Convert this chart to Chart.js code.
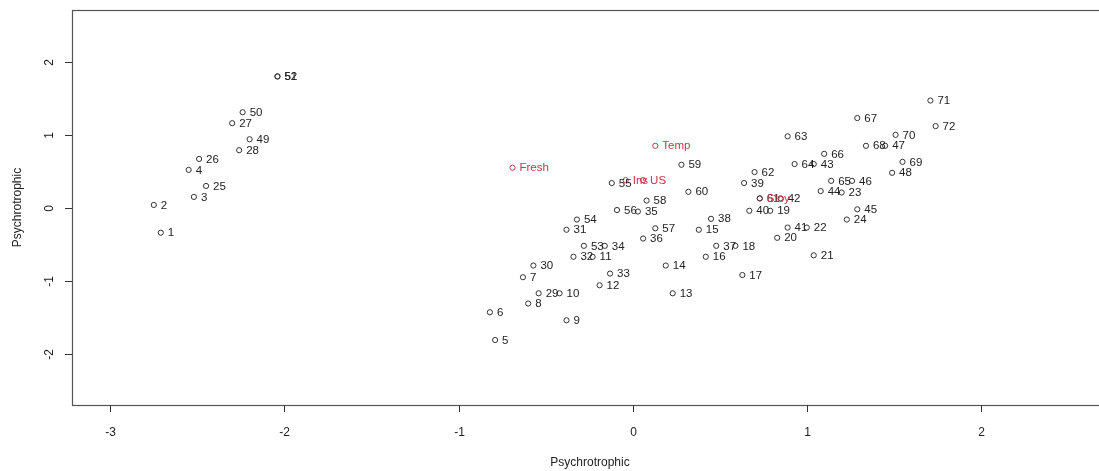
<!DOCTYPE html>
<html>
<head>
<meta charset="utf-8">
<script src="https://cdn.jsdelivr.net/npm/chart.js@4"></script>
<style>
  html, body { margin: 0; padding: 0; background: #fff; overflow: hidden; }
  #wrap { position: relative; width: 1120px; height: 471px; }
</style>
</head>
<body>
<div id="wrap"><canvas id="biplot"></canvas></div>
<script>
// observations (numbered points)
const obsLabels = ["1","2","3","4","5","6","7","8","9","10","11","12","13","14","15","16","17","18","19","20",
  "21","22","23","24","25","26","27","28","29","30","31","32","33","34","35","36","37","38","39","40",
  "41","42","43","44","45","46","47","48","49","50","51","52","53","54","55","56","57","58","59","60",
  "61","62","63","64","65","66","67","68","69","70","71","72"];
const obsX = [-2.71,-2.75,-2.52,-2.55,-0.79,-0.82,-0.63,-0.60,-0.38,-0.42,-0.23,-0.19,0.23,0.19,0.38,0.42,0.63,0.59,0.79,0.83,
  1.04,1.00,1.20,1.23,-2.45,-2.49,-2.30,-2.26,-0.54,-0.57,-0.38,-0.34,-0.13,-0.16,0.03,0.06,0.48,0.45,0.64,0.67,
  0.89,0.85,1.04,1.08,1.29,1.26,1.45,1.49,-2.20,-2.24,-2.04,-2.04,-0.28,-0.32,-0.12,-0.09,0.13,0.08,0.28,0.32,
  0.73,0.70,0.89,0.93,1.14,1.10,1.29,1.34,1.55,1.51,1.71,1.74];
const obsY = [-0.34,0.04,0.15,0.52,-1.81,-1.43,-0.95,-1.31,-1.54,-1.17,-0.67,-1.06,-1.17,-0.79,-0.30,-0.67,-0.92,-0.52,-0.04,-0.41,
  -0.65,-0.27,0.21,-0.16,0.30,0.67,1.16,0.79,-1.17,-0.79,-0.30,-0.67,-0.90,-0.52,-0.05,-0.42,-0.52,-0.15,0.34,-0.04,
  -0.27,0.13,0.60,0.23,-0.02,0.37,0.85,0.48,0.94,1.31,1.80,1.80,-0.52,-0.16,0.34,-0.03,-0.28,0.10,0.59,0.22,
  0.13,0.49,0.98,0.60,0.37,0.74,1.23,0.85,0.63,1.00,1.47,1.12];

// variables (red points)
const varLabels = ["Fresh","Temp","Ins","US","Stoy"];
const varX = [-0.69,0.13,-0.04,0.06,0.73];
const varY = [0.55,0.85,0.38,0.38,0.13];

const xTicks = [-3,-2,-1,0,1,2];
const yTicks = [-2,-1,0,1,2];
const axisTitle = "Psychrotrophic";

const FONT = '"Liberation Sans", Arial, sans-serif';
const INK = "#333";
const RED = "#cc3344";

const pointLabels = {
  id: "pointLabels",
  afterDatasetsDraw(chart) {
    const ctx = chart.ctx;
    ctx.save();
    ctx.font = "11.5px " + FONT;
    ctx.textBaseline = "middle";
    ctx.textAlign = "left";
    chart.data.datasets.forEach((ds, i) => {
      const meta = chart.getDatasetMeta(i);
      ctx.fillStyle = ds.textColor;
      meta.data.forEach((pt, j) => {
        ctx.fillText(ds.names[j], pt.x + 7, pt.y + 0.5);
      });
    });
    ctx.restore();
  }
};

const rAxes = {
  id: "rAxes",
  afterDraw(chart) {
    const ctx = chart.ctx;
    const a = chart.chartArea;
    const xs = chart.scales.x, ys = chart.scales.y;
    ctx.save();
    ctx.strokeStyle = "#555";
    ctx.lineWidth = 1.2;
    ctx.strokeRect(a.left + 0.5, a.top + 0.5, a.right - a.left, a.bottom - a.top);

    ctx.strokeStyle = INK;
    ctx.lineWidth = 1;
    ctx.fillStyle = "#222";
    ctx.font = "12px " + FONT;
    ctx.textAlign = "center";
    ctx.textBaseline = "middle";
    xTicks.forEach(v => {
      const px = Math.round(xs.getPixelForValue(v)) + 0.5;
      ctx.beginPath();
      ctx.moveTo(px, a.bottom);
      ctx.lineTo(px, a.bottom + 7);
      ctx.stroke();
      ctx.fillText(String(v), px, a.bottom + 28);
    });
    yTicks.forEach(v => {
      const py = Math.round(ys.getPixelForValue(v)) + 0.5;
      ctx.beginPath();
      ctx.moveTo(a.left, py);
      ctx.lineTo(a.left - 7, py);
      ctx.stroke();
      ctx.save();
      ctx.translate(a.left - 22, py);
      ctx.rotate(-Math.PI / 2);
      ctx.fillText(String(v), 0, 0);
      ctx.restore();
    });
    ctx.fillText(axisTitle, (a.left + a.right) / 2, a.bottom + 58);
    ctx.save();
    ctx.translate(18, (a.top + a.bottom) / 2);
    ctx.rotate(-Math.PI / 2);
    ctx.fillText(axisTitle, 0, 0);
    ctx.restore();
    ctx.restore();
  }
};

new Chart(document.getElementById("biplot"), {
  type: "scatter",
  data: {
    datasets: [
      {
        label: "observations",
        data: obsX.map((x, i) => ({ x: x, y: obsY[i] })),
        names: obsLabels,
        textColor: "#222",
        borderColor: INK,
        backgroundColor: "rgba(0,0,0,0)",
        borderWidth: 1,
        pointRadius: 2.6,
      },
      {
        label: "variables",
        data: varX.map((x, i) => ({ x: x, y: varY[i] })),
        names: varLabels,
        textColor: RED,
        borderColor: RED,
        backgroundColor: "rgba(0,0,0,0)",
        borderWidth: 1,
        pointRadius: 2.6,
      },
    ],
  },
  options: {
    responsive: true,
    maintainAspectRatio: false,
    animation: false,
    layout: { padding: { left: 72, top: 10, right: 12, bottom: 66 } },
    plugins: { legend: { display: false }, tooltip: { enabled: false } },
    scales: {
      x: { type: "linear", min: -3.22, max: 2.73, display: false },
      y: { type: "linear", min: -2.70, max: 2.71, display: false },
    },
  },
  plugins: [pointLabels, rAxes],
});
</script>
</body>
</html>
